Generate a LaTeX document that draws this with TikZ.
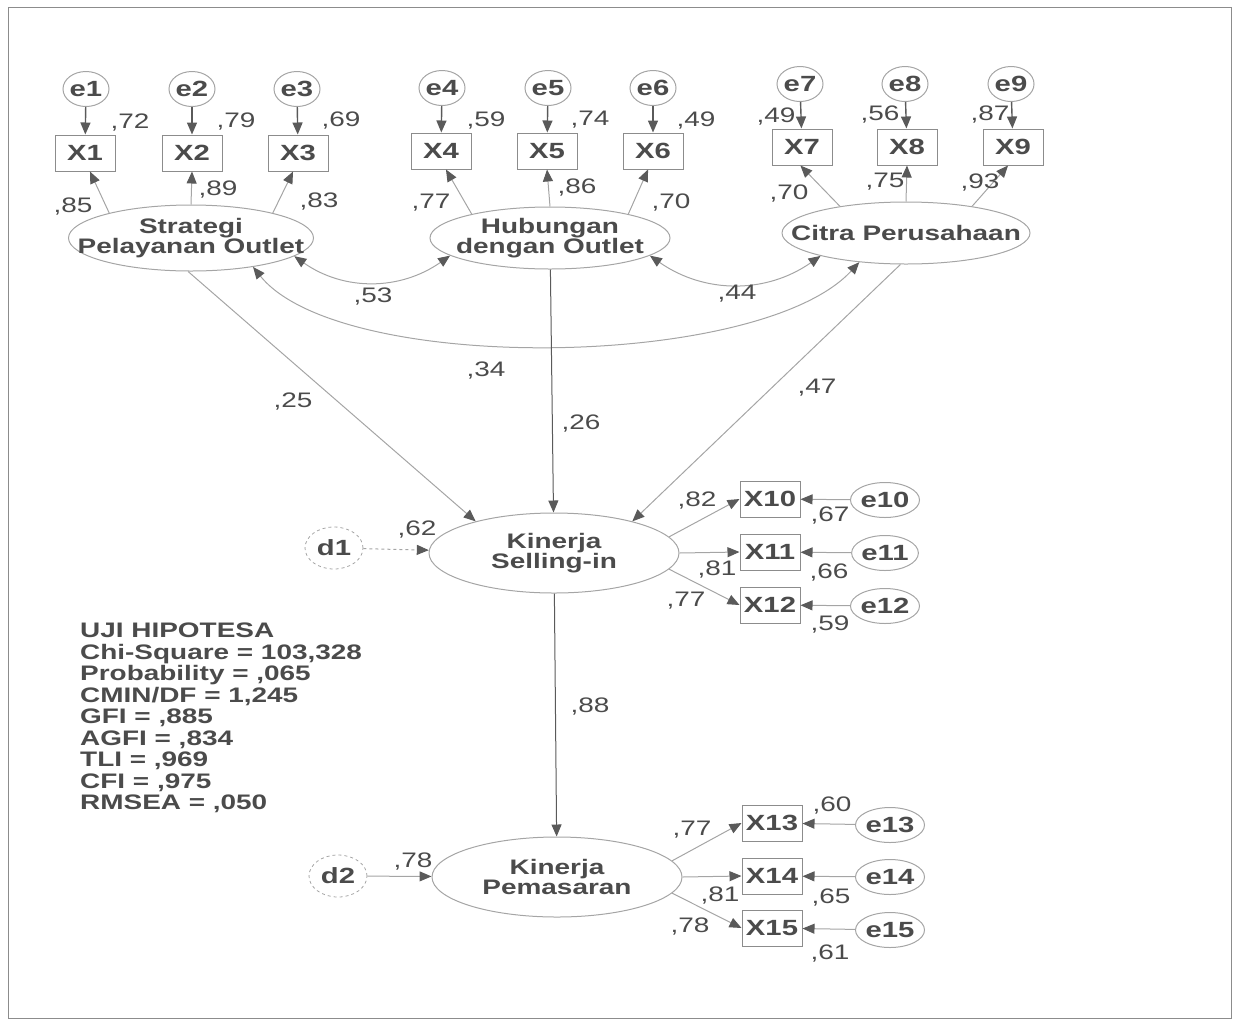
\documentclass[tikz,border=0pt]{standalone}
\usepackage{fontspec}
\setmainfont{Liberation Sans}[FakeStretch=1.33]
\usetikzlibrary{arrows.meta,shapes.geometric}
\definecolor{txt}{RGB}{75,75,75}
\definecolor{ln}{RGB}{90,90,90}
\definecolor{lt}{RGB}{165,165,165}
\definecolor{bx}{RGB}{140,140,140}
\begin{document}
\begin{tikzpicture}[x=1pt,y=-1pt,
  font=\fontsize{21}{21.5}\selectfont,
  lat/.style={draw=lt, line width=1pt, ellipse, inner sep=0pt},
  lattext/.style={font=\fontsize{21}{19.5}\selectfont\bfseries, text=txt, align=center, inner sep=0pt},
  obs/.style={draw=bx, line width=1pt, minimum width=60pt, minimum height=36pt, inner sep=0pt, font=\fontsize{22}{22}\selectfont\bfseries, text=txt},
  err/.style={draw=lt, line width=1pt, ellipse, minimum width=46pt, minimum height=35pt, inner sep=0pt, font=\fontsize{22}{22}\selectfont\bfseries, text=txt},
  dist/.style={draw=lt, dashed, line width=0.8pt, ellipse, minimum width=58pt, minimum height=42pt, inner sep=0pt, font=\fontsize{22}{22}\selectfont\bfseries, text=txt},
  num/.style={text=txt, inner sep=0pt},
  tp/.tip={Triangle[length=12pt,width=10pt,color=ln,fill=ln]},
  darr/.style={draw=ln, line width=1.4pt, -tp},
  larr/.style={draw=lt, line width=1pt, -tp},
  corr/.style={draw=lt, line width=1pt, tp-tp},
  darrow/.style={draw=lt, line width=1pt, dashed, -tp}
]
\useasboundingbox (0,0) rectangle (1236,1023);
\draw[draw=bx, line width=1pt] (8,7) rectangle (1231,1018);

% ---- top latent variables
\node[lat, minimum width=245pt, minimum height=66pt] (S) at (191,238) {};
\node[lattext] (St) at (S) {Strategi\\Pelayanan Outlet};
\node[lat, minimum width=240pt, minimum height=62pt] (H) at (550,238) {};
\node[lattext] (Ht) at (H) {Hubungan\\dengan Outlet};
\node[lat, minimum width=248pt, minimum height=62pt] (C) at (906,233) {};
\node[lattext] (Ct) at (C) {Citra Perusahaan};

% ---- indicators X1..X9
\node[obs] (X1) at (85,153) {X1};
\node[obs] (X2) at (192,153) {X2};
\node[obs] (X3) at (298,153) {X3};
\node[obs] (X4) at (441,151) {X4};
\node[obs] (X5) at (547,151) {X5};
\node[obs] (X6) at (653,151) {X6};
\node[obs] (X7) at (802,147) {X7};
\node[obs] (X8) at (907,147) {X8};
\node[obs] (X9) at (1013,147) {X9};

\node[err] (e1) at (86,89) {e1};
\node[err] (e2) at (192,89) {e2};
\node[err] (e3) at (297,89) {e3};
\node[err] (e4) at (442,88) {e4};
\node[err] (e5) at (548,88) {e5};
\node[err] (e6) at (653,88) {e6};
\node[err] (e7) at (800,84) {e7};
\node[err] (e8) at (905,84) {e8};
\node[err] (e9) at (1011,84) {e9};

\foreach \i in {1,...,9} {\draw[darr] (e\i) -- (X\i);}

% loadings
\draw[larr] (S.163) -- (X1.-75);
\draw[larr] (S.north) -- (X2.south);
\draw[larr] (S.17) -- (X3.-105);
\draw[larr] (H.163) -- (X4.-75);
\draw[larr] (H.north) -- (X5.south);
\draw[larr] (H.17) -- (X6.-105);
\draw[larr] (C.158) -- (X7.-95);
\draw[larr] (C.north) -- (X8.south);
\draw[larr] (C.22) -- (X9.-105);

% correlations
\draw[corr] (S.-10) to[out=-35,in=-145] (H.-170);
\draw[corr] (H.-10) to[out=-35,in=-145] (C.-165);
\draw[corr] (S.-25) .. controls (340,375) and (760,370) .. (C.-148);

% ---- endogenous
\node[lat, minimum width=250pt, minimum height=80pt] (K1) at (554,553) {};
\node[lattext] (K1t) at (K1) {Kinerja\\Selling-in};
\node[lat, minimum width=250pt, minimum height=80pt] (K2) at (557,877) {};
\node[lattext] (K2t) at (K2) {Kinerja\\Pemasaran};

\node[dist] (d1) at (334,548) {d1};
\node[dist] (d2) at (338,876) {d2};

\draw[larr] (S.-95) -- (K1.158);
\draw[darr, line width=1pt] (H) -- (K1);
\draw[larr] (C.-100) -- (K1.22);
\draw[darr, line width=1pt] (K1) -- (K2);
\draw[darrow] (d1) -- (K1);
\draw[larr] (d2) -- (K2);

% indicators X10..X15
\node[obs] (X10) at (770,499) {X10};
\node[obs] (X11) at (770,552) {X11};
\node[obs] (X12) at (770,605) {X12};
\node[obs] (X13) at (772,823) {X13};
\node[obs] (X14) at (772,876) {X14};
\node[obs] (X15) at (772,928) {X15};

\node[err] (e10) at (885,500) {e10};
\node[err] (e11) at (885,553) {e11};
\node[err] (e12) at (885,606) {e12};
\node[err] (e13) at (890,825) {e13};
\node[err] (e14) at (890,877) {e14};
\node[err] (e15) at (890,930) {e15};

\foreach \i in {10,...,15} {\draw[larr] (e\i) -- (X\i);}

\draw[larr] (K1.8) -- (X10.west);
\draw[larr] (K1.east) -- (X11.west);
\draw[larr] (K1.-8) -- (X12.west);
\draw[larr] (K2.8) -- (X13.west);
\draw[larr] (K2.east) -- (X14.west);
\draw[larr] (K2.-8) -- (X15.west);

% ---- numbers
\node[num] (n1) at (130,123) {,72};
\node[num] (n2) at (236,122) {,79};
\node[num] (n3) at (341,121) {,69};
\node[num] (n4) at (73,207) {,85};
\node[num] (n5) at (218,190) {,89};
\node[num] (n6) at (319,202) {,83};
\node[num] (n7) at (486,121) {,59};
\node[num] (n8) at (590,120) {,74};
\node[num] (n9) at (696,121) {,49};
\node[num] (n10) at (431,203) {,77};
\node[num] (n11) at (577,188) {,86};
\node[num] (n12) at (671,203) {,70};
\node[num] (n13) at (776,117) {,49};
\node[num] (n14) at (880,115) {,56};
\node[num] (n15) at (990,115) {,87};
\node[num] (n16) at (789,194) {,70};
\node[num] (n17) at (885,182) {,75};
\node[num] (n18) at (980,183) {,93};
\node[num] (n19) at (373,297) {,53};
\node[num] (n20) at (737,294) {,44};
\node[num] (n21) at (486,371) {,34};
\node[num] (n22) at (293,402) {,25};
\node[num] (n23) at (581,424) {,26};
\node[num] (n24) at (817,388) {,47};
\node[num] (n25) at (417,530) {,62};
\node[num] (n26) at (697,501) {,82};
\node[num] (n27) at (717,570) {,81};
\node[num] (n28) at (686,601) {,77};
\node[num] (n29) at (830,516) {,67};
\node[num] (n30) at (829,573) {,66};
\node[num] (n31) at (830,625) {,59};
\node[num] (n32) at (590,706) {,88};
\node[num] (n33) at (413,861) {,78};
\node[num] (n34) at (692,830) {,77};
\node[num] (n35) at (720,895) {,81};
\node[num] (n36) at (690,926) {,78};
\node[num] (n37) at (832,805) {,60};
\node[num] (n38) at (831,897) {,65};
\node[num] (n39) at (830,953) {,61};

% ---- fit statistics
\node[text=txt, inner sep=0pt, anchor=north west, align=left,
      font=\fontsize{21}{21.5}\selectfont\bfseries] (stats) at (80,623)
{UJI HIPOTESA\\
Chi-Square = 103,328\\
Probability = ,065\\
CMIN/DF = 1,245\\
GFI = ,885\\
AGFI = ,834\\
TLI = ,969\\
CFI = ,975\\
RMSEA = ,050};
\end{tikzpicture}
\end{document}
